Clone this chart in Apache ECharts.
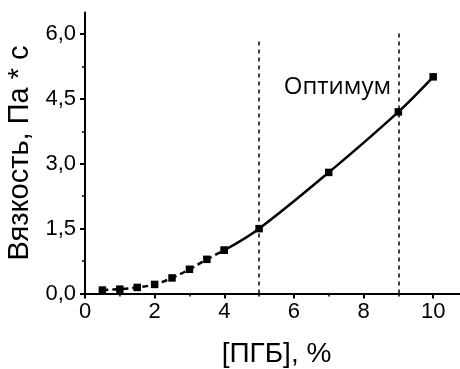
<!DOCTYPE html>
<html>
<head>
<meta charset="utf-8">
<script src="https://cdn.jsdelivr.net/npm/echarts@6/dist/echarts.min.js"></script>
<style>
  html, body { margin: 0; padding: 0; background: #fff; }
  #chart { width: 460px; height: 369px; }
</style>
</head>
<body>
<div id="chart"></div>
<script>
// PHB concentration (%) and viscosity (Pa*s)
const concentration = [0.5, 1, 1.5, 2, 2.5, 3, 3.5, 4, 5, 7, 9, 10];
const viscosity = [0.08, 0.10, 0.14, 0.21, 0.36, 0.56, 0.79, 1.00, 1.50, 2.80, 4.20, 5.01];
// last point of the dashed (low-concentration) branch
const dashedEnd = 7;
// optimum range bounds and the heights of their marker lines
const optimumX = [5, 9];
const optimumTop = [5.9, 6.05];
const optimumLabelPos = [7.25, 4.78];

const xTicks = [0, 2, 4, 6, 8, 10];
const xMinor = [1, 3, 5, 7, 9];
const yTicks = [0, 1.5, 3, 4.5, 6];
const yMinor = [0.75, 2.25, 3.75, 5.25];

const pairs = concentration.map((x, i) => [x, viscosity[i]]);
const low = pairs.slice(0, dashedEnd + 1);
const high = pairs.slice(dashedEnd);

const FONT = 'Liberation Sans, Arial, sans-serif';
const fmt = v => v.toFixed(1).replace('.', ',');

const chart = echarts.init(document.getElementById('chart'), null, { renderer: 'canvas' });

const axisLine = { show: true, onZero: false, lineStyle: { color: '#000', width: 2 } };

chart.setOption({
  animation: false,
  backgroundColor: '#fff',
  grid: [{
    left: 85, top: 12.4, width: 383, height: 281.1,
    containLabel: false, outerBoundsMode: 'none'
  }],
  xAxis: [{
    type: 'value', min: 0, max: 11,
    axisLine,
    axisTick: { show: true, inside: false, length: 5, lineStyle: { color: '#000', width: 2 }, customValues: xTicks },
    axisLabel: { color: '#000', fontSize: 22, fontFamily: FONT, margin: 7, customValues: xTicks },
    splitLine: { show: false },
    name: '[ПГБ], %', nameLocation: 'middle', nameGap: 47,
    nameTextStyle: { color: '#000', fontSize: 28, fontFamily: FONT }
  }, {
    type: 'value', min: 0, max: 11, position: 'bottom',
    axisLine: { show: false },
    axisTick: { show: true, inside: false, length: 3, lineStyle: { color: '#000', width: 1.5 }, customValues: xMinor },
    axisLabel: { show: false },
    splitLine: { show: false }
  }],
  yAxis: [{
    type: 'value', min: 0, max: 6.5,
    axisLine,
    axisTick: { show: true, inside: false, length: 5, lineStyle: { color: '#000', width: 2 }, customValues: yTicks },
    axisLabel: { color: '#000', fontSize: 22, fontFamily: FONT, margin: 9, formatter: fmt, customValues: yTicks },
    splitLine: { show: false },
    name: 'Вязкость, Па * с', nameLocation: 'middle', nameGap: 48, nameRotate: 90,
    nameTextStyle: { color: '#000', fontSize: 29, fontFamily: FONT }
  }, {
    type: 'value', min: 0, max: 6.5, position: 'left',
    axisLine: { show: false },
    axisTick: { show: true, inside: false, length: 3, lineStyle: { color: '#000', width: 1.5 }, customValues: yMinor },
    axisLabel: { show: false },
    splitLine: { show: false }
  }],
  series: [
    {
      type: 'line', data: low, smooth: 0.35,
      symbol: 'rect', symbolSize: 7.5,
      itemStyle: { color: '#000' },
      lineStyle: { color: '#000', width: 2.5, type: [6, 4] },
      z: 5
    },
    {
      type: 'line', data: high, smooth: 0.35,
      symbol: 'rect', symbolSize: 7.5,
      itemStyle: { color: '#000' },
      lineStyle: { color: '#000', width: 2.5, type: 'solid' },
      z: 5,
      markLine: {
        silent: true, symbol: 'none', animation: false,
        label: { show: false },
        lineStyle: { color: '#000', width: 1.5, type: [4, 4] },
        data: optimumX.map((x, i) => [{ coord: [x, 0] }, { coord: [x, optimumTop[i]] }])
      }
    },
    {
      type: 'scatter', data: [optimumLabelPos], symbolSize: 0,
      silent: true,
      itemStyle: { opacity: 1 },
      label: {
        show: true, position: 'inside', formatter: 'Оптимум', opacity: 1,
        color: '#000', fontSize: 24, fontFamily: 'Open Sans, sans-serif'
      },
      z: 3
    }
  ]
});
</script>
</body>
</html>
